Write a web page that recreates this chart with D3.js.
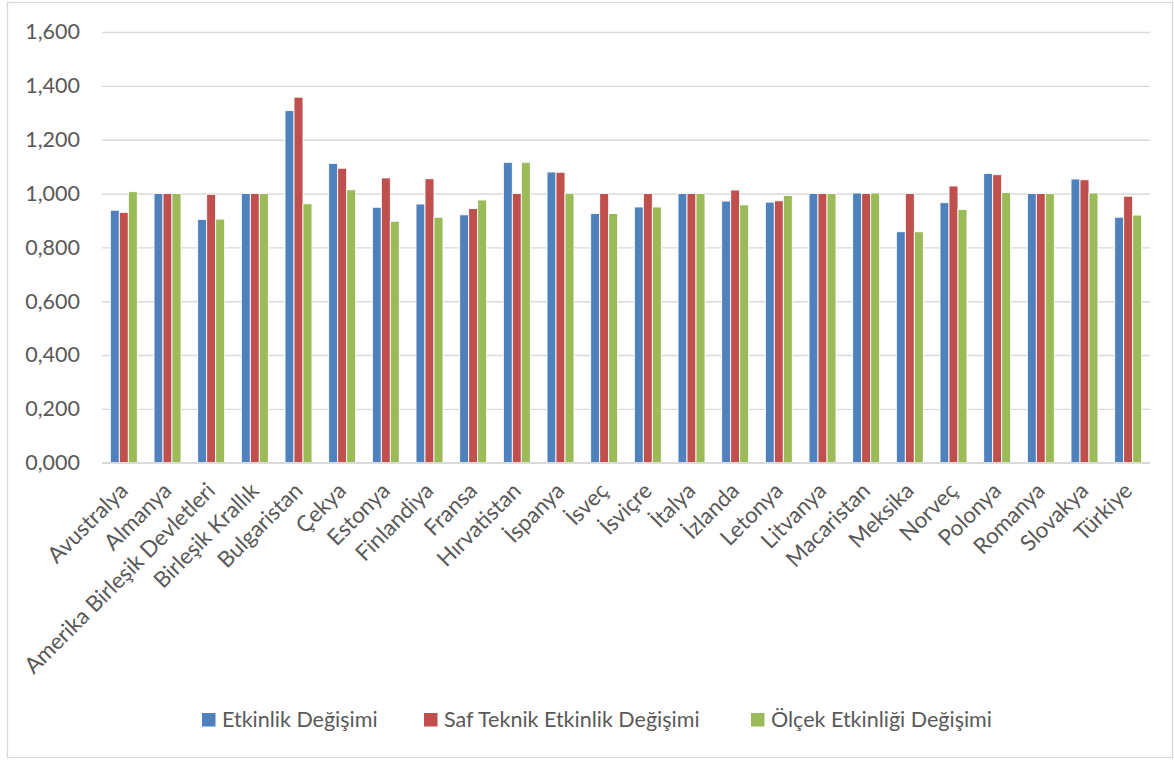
<!DOCTYPE html>
<html>
<head>
<meta charset="utf-8">
<script src="https://cdn.jsdelivr.net/npm/d3@7"></script>
<style>
  html, body { margin: 0; padding: 0; background: #fff; }
  svg { display: block; }
  text { font-family: Lato, "Open Sans", sans-serif; fill: #595959; }
</style>
</head>
<body>
<svg id="chart" width="1174" height="760"></svg>
<script>
const categories = ["Avustralya","Almanya","Amerika Birleşik Devletleri","Birleşik Krallık","Bulgaristan","Çekya","Estonya","Finlandiya","Fransa","Hırvatistan","İspanya","İsveç","İsviçre","İtalya","İzlanda","Letonya","Litvanya","Macaristan","Meksika","Norveç","Polonya","Romanya","Slovakya","Türkiye"];
const seriesNames = ["Etkinlik Değişimi","Saf Teknik Etkinlik Değişimi","Ölçek Etkinliği Değişimi"];
const etkinlik = [0.938,1.000,0.904,1.000,1.308,1.112,0.949,0.961,0.921,1.116,1.080,0.926,0.950,1.000,0.972,0.968,1.000,1.002,0.858,0.966,1.075,1.000,1.054,0.912];
const safTeknik = [0.930,1.000,0.997,1.000,1.358,1.094,1.058,1.055,0.944,1.000,1.079,1.000,1.000,1.000,1.013,0.973,1.000,1.000,1.000,1.028,1.070,1.000,1.051,0.990];
const olcek = [1.007,1.000,0.905,1.000,0.962,1.014,0.897,0.912,0.976,1.116,1.001,0.926,0.950,1.000,0.958,0.993,1.000,1.002,0.858,0.941,1.004,1.000,1.002,0.920];
const yTicks = [0,0.2,0.4,0.6,0.8,1.0,1.2,1.4,1.6];
const colors = ["#4f81bd","#c0504d","#9bbb59"];

const svg = d3.select("#chart");
const seriesValues = [etkinlik, safTeknik, olcek];

// chart border
svg.append("rect").attr("x",7.5).attr("y",2.5).attr("width",1165).attr("height",755)
  .attr("fill","#fff").attr("stroke","#d9d9d9").attr("stroke-width",1.3);

const plotLeft = 102, plotRight = 1150, plotTop = 32, plotBottom = 462.7;
const y = d3.scaleLinear().domain([0,1.6]).range([plotBottom, plotTop]);
const x0 = d3.scaleBand().domain(categories).range([plotLeft, plotRight]).paddingInner(0.382).paddingOuter(0.191);
const x1 = d3.scaleBand().domain(d3.range(3)).range([0, x0.bandwidth()]);

// gridlines + y labels
const yAxis = d3.axisLeft(y).tickValues(yTicks).tickSize(-(plotRight-plotLeft)).tickPadding(22)
  .tickFormat(v => d3.format(".3f")(v).replace(".", ","));
const gy = svg.append("g").attr("transform",`translate(${plotLeft},0)`).call(yAxis);
gy.select(".domain").remove();
gy.selectAll(".tick line").attr("stroke","#d9d9d9").attr("stroke-width",1.4);
gy.selectAll(".tick text").attr("font-size",21.5).attr("fill","#595959").style("font-family","Lato, sans-serif");

// bars
const groups = svg.append("g").selectAll("g").data(categories).join("g")
  .attr("transform", d => `translate(${x0(d)},0)`);
groups.selectAll("rect").data((d,i) => seriesValues.map((s,k) => ({k, v: s[i]}))).join("rect")
  .attr("x", d => x1(d.k))
  .attr("y", d => y(d.v))
  .attr("width", x1.bandwidth())
  .attr("height", d => y(0) - y(d.v))
  .attr("fill", d => colors[d.k])
  .attr("stroke", "#ffffff").attr("stroke-width", 0.9);

// x axis line
svg.append("line").attr("x1",plotLeft).attr("x2",plotRight).attr("y1",y(0)).attr("y2",y(0))
  .attr("stroke","#d9d9d9").attr("stroke-width",1.4);

// x labels
const xAxis = d3.axisBottom(x0).tickSize(0).tickPadding(0);
const gx = svg.append("g").attr("transform",`translate(0,${y(0)})`).call(xAxis);
gx.select(".domain").remove();
gx.selectAll(".tick text")
  .attr("font-size",22.3).attr("fill","#595959").style("font-family","Lato, sans-serif")
  .attr("text-anchor","end")
  .attr("dy",null).attr("y",null)
  .attr("transform","translate(-7,17) rotate(-45)")
  .attr("dominant-baseline","hanging");

// legend
const legendX = [202, 424, 751];
const lg = svg.append("g");
seriesNames.forEach((name,k) => {
  lg.append("rect").attr("x",legendX[k]).attr("y",713).attr("width",13.5).attr("height",13.5).attr("fill",colors[k]);
  lg.append("text").attr("x",legendX[k]+20).attr("y",727).attr("font-size",21.5).text(name);
});
</script>
</body>
</html>
